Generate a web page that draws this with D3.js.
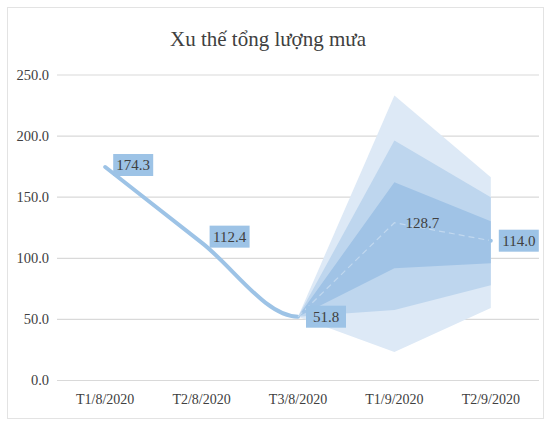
<!DOCTYPE html>
<html><head><meta charset="utf-8">
<script src="https://cdn.jsdelivr.net/npm/d3@7"></script>
<style>html,body{margin:0;padding:0;background:#fff;} svg text{font-family:'Liberation Serif', serif !important;}</style>
</head><body>
<script>
const categories = ["T1/8/2020","T2/8/2020","T3/8/2020","T1/9/2020","T2/9/2020"];
const observed = [174.3, 112.4, 51.8];
const forecast = [51.8, 128.7, 114.0];
const outerLow = [51.8, 22.9, 59.0];
const outerHigh = [51.8, 232.8, 166.0];
const midLow = [51.8, 57.2, 77.6];
const midHigh = [51.8, 196.0, 149.5];
const innerLow = [51.8, 91.5, 95.6];
const innerHigh = [51.8, 161.8, 130.0];
const yTicks = [0, 50, 100, 150, 200, 250];
const title = "Xu thế tổng lượng mưa";

const FONT = "'Liberation Serif'";
const W = 548, H = 421;
const svg = d3.select("body").append("svg").attr("width", W).attr("height", H);
svg.append("rect").attr("x",7.5).attr("y",7.5).attr("width",W-12).attr("height",H-10)
  .attr("fill","#fff").attr("stroke","#e3e3e3");

const x = d3.scaleBand().domain(categories).range([57, 539]);
const y = d3.scaleLinear().domain([0, 250]).range([380, 74.5]);
const cx = c => x(c) + x.bandwidth()/2;

svg.append("text").attr("x", 268).attr("y", 46).attr("text-anchor","middle")
  .style("font-family", FONT).attr("font-size",21).attr("fill","#404040").text(title);

const yAxis = d3.axisLeft(y).tickValues(yTicks).tickSize(-(539-57)).tickFormat(d3.format(".1f"));
const ga = svg.append("g").attr("transform","translate(57,0)").call(yAxis);
ga.attr("font-family", null);
ga.select(".domain").remove();
ga.selectAll(".tick line").attr("stroke","#d9d9d9").attr("stroke-width",1.2);
ga.selectAll(".tick text").attr("x",-8).style("font-family", FONT).attr("font-size",14.5).attr("fill","#404040");

const xAxis = d3.axisBottom(x).tickSize(0).tickPadding(14);
const gx = svg.append("g").attr("transform","translate(0,380)").call(xAxis);
gx.attr("font-family", null);
gx.select(".domain").remove();
gx.selectAll(".tick text").style("font-family", FONT).attr("font-size",14).attr("fill","#404040");

const fcCats = categories.slice(2);
function band(lo, hi, color){
  const area = d3.area().x((d,i)=>cx(fcCats[i])).y0((d,i)=>y(lo[i])).y1((d,i)=>y(hi[i]));
  svg.append("path").datum(lo).attr("d", area).attr("fill", color);
}
band(outerLow, outerHigh, "#dde9f6");
band(midLow, midHigh, "#bed6ee");
band(innerLow, innerHigh, "#a0c3e6");

// smoothed observed line: cubic Bezier segments, flat tangent at the last point
const pts = observed.map((v,i)=>[cx(categories[i]), y(v)]);
const tan = pts.map((p,i)=>{
  if (i === 0) return [(pts[1][0]-p[0]), (pts[1][1]-p[1])];
  if (i === pts.length-1) return [(p[0]-pts[i-1][0]), 0];
  return [(pts[i+1][0]-pts[i-1][0])/2, (pts[i+1][1]-pts[i-1][1])/2];
});
const pth = d3.path();
pth.moveTo(pts[0][0], pts[0][1]);
for (let i=0;i<pts.length-1;i++){
  const a = pts[i], b = pts[i+1], ta = tan[i], tb = tan[i+1];
  pth.bezierCurveTo(a[0]+ta[0]/3, a[1]+ta[1]/3, b[0]-tb[0]/3, b[1]-tb[1]/3, b[0], b[1]);
}
svg.append("path").attr("d", pth.toString()).attr("fill","none")
  .attr("stroke","#9dc3e6").attr("stroke-width",4).attr("stroke-linecap","round");

const fline = d3.line().x((d,i)=>cx(fcCats[i])).y(d=>y(d));
svg.append("path").datum(forecast).attr("d", fline).attr("fill","none")
  .attr("stroke","rgba(255,255,255,0.35)").attr("stroke-width",1.2).attr("stroke-dasharray","6,4");
svg.append("circle").attr("cx", cx(fcCats[2])).attr("cy", y(forecast[2])).attr("r",2).attr("fill","#9dc3e6");

const labels = [
  {c: categories[0], v: observed[0], box: true, dy: -2},
  {c: categories[1], v: observed[1], box: true, dy: -6},
  {c: categories[2], v: observed[2], box: true, dy: 0},
  {c: categories[3], v: forecast[1], box: false, dy: 0},
  {c: categories[4], v: forecast[2], box: true, dy: 0}
];
labels.forEach(l => {
  const px = cx(l.c) + 8, py = y(l.v) + l.dy;
  const g = svg.append("g");
  g.append("text").attr("x", px + 20).attr("y", py).attr("dy","0.35em")
    .attr("text-anchor","middle").style("font-family", FONT).attr("font-size",15)
    .attr("fill","#404040").text(d3.format(".1f")(l.v));
  if (l.box) {
    g.insert("rect","text").attr("x", px).attr("y", py - 11).attr("width", 40).attr("height", 22)
      .attr("fill","#9dc3e6");
  }
});
</script>
</body></html>
